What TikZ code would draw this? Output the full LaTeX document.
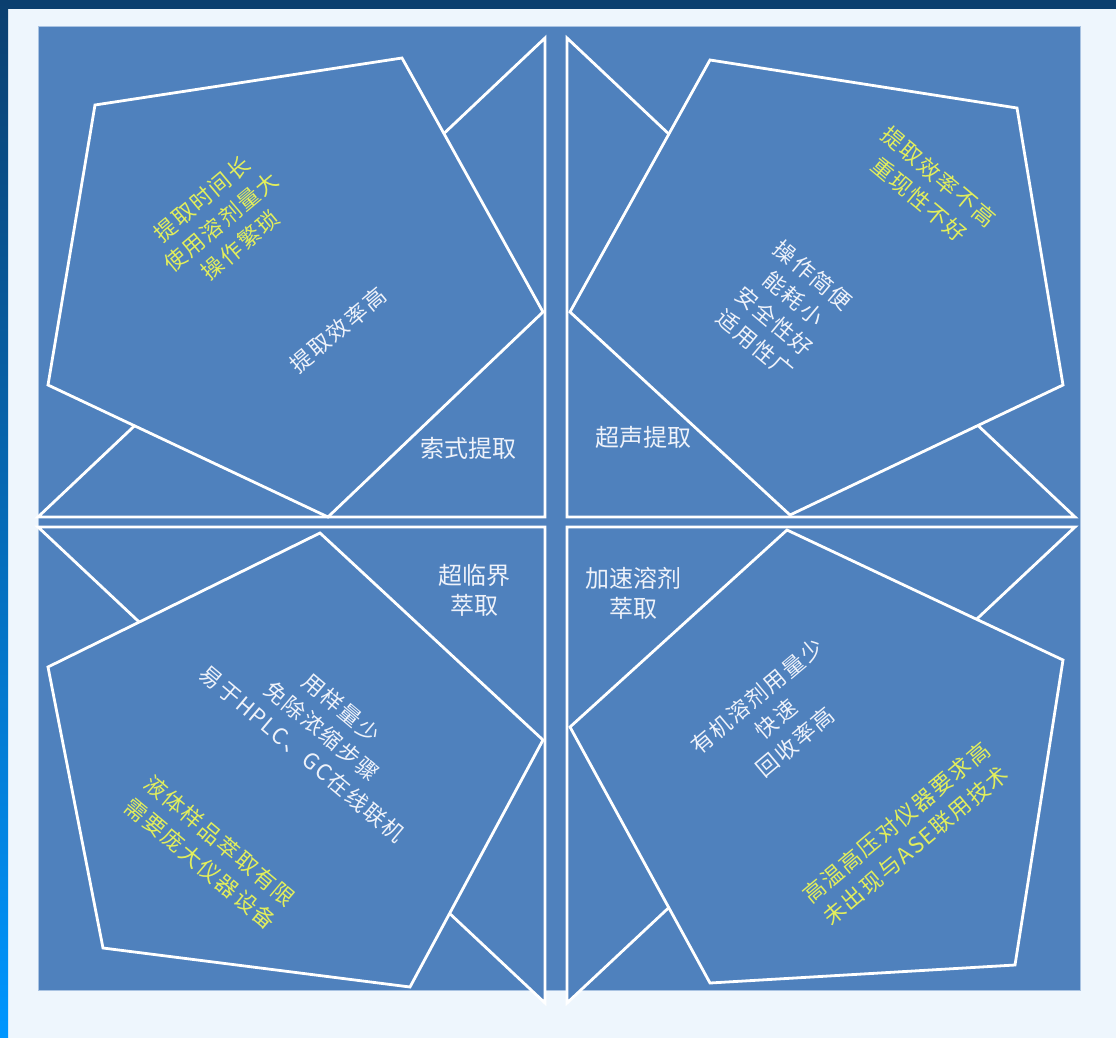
\documentclass[tikz,border=0pt]{standalone}
\usepackage{fontspec}
\setmainfont{Noto Sans CJK SC}
\definecolor{qblue}{HTML}{4F81BD}
\definecolor{ylw}{HTML}{E2EE5C}
\definecolor{wt}{HTML}{EEF2FA}
\definecolor{pagebg}{HTML}{EEF6FD}
\definecolor{navy}{HTML}{0B3F6F}
\definecolor{sideblue}{HTML}{0096FF}
\definecolor{rimblue}{HTML}{A9C3E2}
\tikzset{
  piece/.style={fill=qblue, draw=white, line width=2.8pt, line join=miter},
  lbl/.style={text=wt, font=\fontsize{24}{30}\selectfont, align=center, inner sep=0pt},
  pro/.style={text=wt, font=\fontsize{22}{30}\selectfont\addfontfeature{LetterSpace=8}, align=center, inner sep=0pt},
  con/.style={text=ylw, font=\fontsize{22}{30}\selectfont\addfontfeature{LetterSpace=8}, align=center, inner sep=0pt},
}
\begin{document}
\begin{tikzpicture}[x=1pt,y=-1pt]
\useasboundingbox (0,0) rectangle (1116,1038);
% page background
\fill[pagebg] (0,0) rectangle (1116,1038);
\fill[navy] (0,0) rectangle (1116,9);
\shade[top color=navy, bottom color=sideblue] (0,0) rectangle (8,1038);
% main blue panel
\fill[qblue, draw=rimblue, line width=1pt] (38,27) rectangle (1080,990);

% ---- top-left quadrant
\draw[piece] (545,38) -- (545,517) -- (38,517) -- cycle;
\draw[piece] (95,105) -- (402,58) -- (543,312) -- (328,517) -- (48,385) -- cycle;
\node[con, rotate=40] (tlcon) at (221,222) {提取时间长\\使用溶剂量大\\操作繁琐};
\node[pro, rotate=40] (tlpro) at (338,330) {提取效率高};
\node[lbl] (tllbl) at (468,448) {索式提取};

% ---- top-right quadrant
\draw[piece] (567,38) -- (567,517) -- (1075,517) -- cycle;
\draw[piece] (710,60) -- (1017,108) -- (1063,385) -- (790,515) -- (570,312) -- cycle;
\node[con, rotate=-40] (trcon) at (929,188) {提取效率不高\\重现性不好};
\node[pro, rotate=-40] (trpro) at (784,310) {操作简便\\能耗小\\安全性好\\适用性广};
\node[lbl] (trlbl) at (643,437) {超声提取};

% ---- bottom-left quadrant
\draw[piece] (38,527) -- (545,527) -- (545,1003) -- cycle;
\draw[piece] (48,667) -- (320,533) -- (543,740) -- (410,987) -- (103,948) -- cycle;
\node[pro, rotate=-40] (blpro) at (322,731) {用样量少\\免除浓缩步骤\\易于HPLC、GC在线联机};
\node[con, rotate=-40] (blcon) at (210,852) {液体样品萃取有限\\需要庞大仪器设备};
\node[lbl] (bllbl) at (474,590) {超临界\\萃取};

% ---- bottom-right quadrant
\draw[piece] (567,527) -- (1075,527) -- (567,1003) -- cycle;
\draw[piece] (787,530) -- (1063,660) -- (1015,965) -- (710,983) -- (570,727) -- cycle;
\node[pro, rotate=40] (brpro) at (776,719) {有机溶剂用量少\\快速\\回收率高};
\node[con, rotate=40] (brcon) at (906,834) {高温高压对仪器要求高\\未出现与ASE联用技术};
\node[lbl] (brlbl) at (633,593) {加速溶剂\\萃取};
\end{tikzpicture}
\end{document}
